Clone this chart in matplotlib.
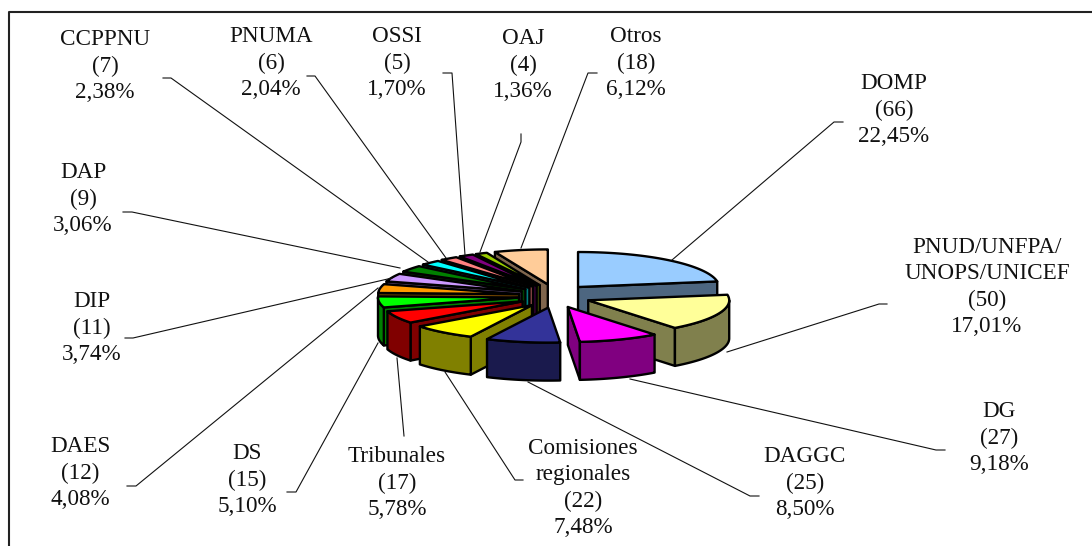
import matplotlib
matplotlib.use("Agg")
import matplotlib.pyplot as plt
from matplotlib.colors import to_rgb
from matplotlib.patches import Polygon
import numpy as np

plt.rcParams['font.family'] = ['Liberation Serif', 'DejaVu Serif']

names = ["DOMP", "PNUD/UNFPA/\nUNOPS/UNICEF", "DG", "DAGGC", "Comisiones\nregionales",
         "Tribunales", "DS", "DAES", "DIP", "DAP", "CCPPNU", "PNUMA", "OSSI", "OAJ", "Otros"]
values = [66, 50, 27, 25, 22, 17, 15, 12, 11, 9, 7, 6, 5, 4, 18]
percents = ["22,45%", "17,01%", "9,18%", "8,50%", "7,48%", "5,78%", "5,10%", "4,08%",
            "3,74%", "3,06%", "2,38%", "2,04%", "1,70%", "1,36%", "6,12%"]
colors = ["#99CCFF", "#FFFF99", "#FF00FF", "#333399", "#FFFF00", "#FF0000", "#00FF00", "#FF9900",
          "#CC99FF", "#008000", "#00FFFF", "#FF8080", "#800080", "#99CC00", "#FFCC99"]

# label centres, in pixels of the picture
label_x = [894, 987, 999, 805, 583, 397, 247, 80, 92, 83, 105, 271, 397, 523, 636]
label_y = [110, 287, 438, 483, 488, 483, 480, 473, 328, 199, 66, 63, 63, 65, 63]

# leader lines, from the label end to the slice
leaders = [
    [(843, 122), (834, 122), (672, 260)],
    [(887, 304), (879, 304), (727, 352)],
    [(945, 450), (936, 450), (630, 379)],
    [(759, 496), (750, 496), (528, 382)],
    [(523, 480), (515, 480), (445, 372)],
    [(404, 436), (397, 358)],
    [(287, 492), (296, 492), (378, 343)],
    [(127, 486), (136, 486), (378, 288)],
    [(125, 338), (133, 338), (392, 278)],
    [(123, 212), (132, 212), (400, 268)],
    [(163, 78), (171, 78), (428, 262)],
    [(307, 76), (315, 76), (446, 258)],
    [(443, 73), (452, 73), (465, 255)],
    [(521, 134), (521, 142), (480, 252)],
    [(597, 73), (588, 73), (521, 248)],
]

cx, cy = 554.7, 296
rx, ry = 141, 35
ex, ey = 36, 11.8
depth = 38
edge = dict(edgecolor="black", linewidth=1.7, joinstyle="round")


def rim(ax0, ay0, t0, t1):
    t = np.radians(np.linspace(t0, t1, max(int(abs(t1 - t0)) * 2, 2)))
    return np.column_stack([ax0 + rx * np.sin(t), ay0 - ry * np.cos(t)])


fig = plt.figure(figsize=(10.92, 5.46), dpi=100)
ax = fig.add_axes([0, 0, 1, 1])
ax.set_xlim(0, 1092)
ax.set_ylim(546, 0)
ax.axis("off")

# chart border, only top and left show
ax.plot([1092, 9, 9], [12, 12, 546], color="#222222", lw=1.5)

for line in leaders:
    ax.plot([p[0] for p in line], [p[1] for p in line], color="#111111", lw=0.8)

angles = np.concatenate([[0], np.cumsum(values)]) / sum(values) * 360
mids = (angles[:-1] + angles[1:]) / 2

# back slices first
for i in np.argsort(-np.cos(np.radians(mids))):
    t0, t1 = angles[i], angles[i + 1]
    b = np.radians(mids[i])
    x0 = cx + ex * np.sin(b)
    y0 = cy - ey * np.cos(b)
    side = tuple(c * 0.5 for c in to_rgb(colors[i]))
    arc = rim(x0, y0, t0, t1)

    # cut faces that look towards the viewer
    if np.sin(np.radians(t0)) < 0:
        p = arc[0]
        ax.add_patch(Polygon([(x0, y0), p, (p[0], p[1] + depth), (x0, y0 + depth)], facecolor=side, **edge))
    if np.sin(np.radians(t1)) > 0:
        p = arc[-1]
        ax.add_patch(Polygon([(x0, y0), p, (p[0], p[1] + depth), (x0, y0 + depth)], facecolor=side, **edge))

    # outer wall, front half only
    a0, a1 = max(t0, 90), min(t1, 270)
    if a1 > a0:
        wall = rim(x0, y0, a0, a1)
        low = wall[::-1] + [0, depth]
        ax.add_patch(Polygon(np.vstack([wall, low]), facecolor=side, **edge))

    ax.add_patch(Polygon(np.vstack([[x0, y0], arc]), facecolor=colors[i], **edge))

for i in range(len(names)):
    ax.text(label_x[i], label_y[i], f"{names[i]}\n({values[i]})\n{percents[i]}",
            ha="center", va="center", ma="center", fontsize=16.7, color="#111111", linespacing=1.34)

fig.savefig("out.png", dpi=100)
